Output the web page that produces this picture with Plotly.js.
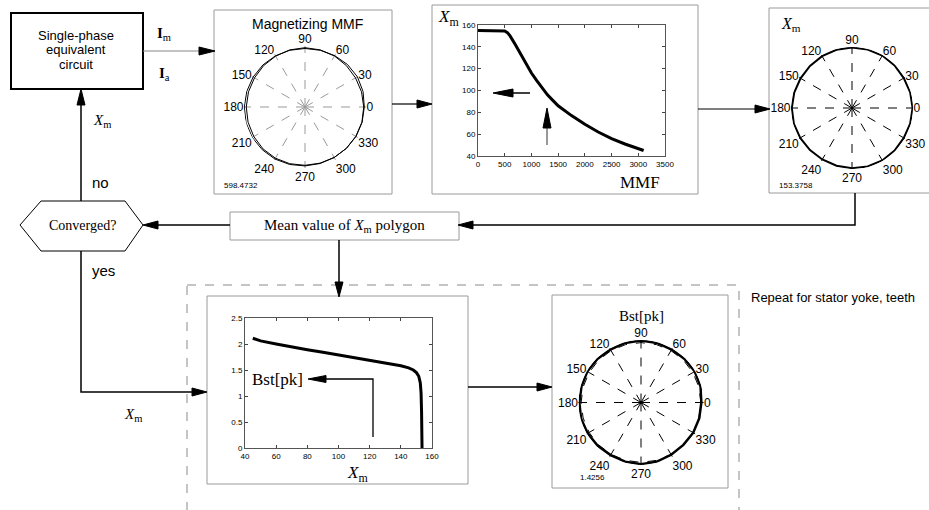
<!DOCTYPE html>
<html>
<head>
<meta charset="utf-8">
<script src="https://cdn.plot.ly/plotly-3.0.1.min.js"></script>
<style>html,body{margin:0;padding:0;background:#fff;}#chart{width:929px;height:510px;}</style>
</head>
<body>
<div id="chart"></div>
<script>
// ---------- data ----------
const polarTheta = [0,15,30,45,60,75,90,105,120,135,150,165,180,195,210,225,240,255,270,285,300,315,330,345,360];
const angTicks = [0,30,60,90,120,150,180,210,240,270,300,330];
const angTickText = ['0','30','60','90','120','150','180','210','240','270','300','330'];

const mmfInner = [592,590,588,590,594,596,598,596,592,590,588,590,592,594,596,598,596,592,588,586,588,590,592,594,592];
const mmfOuter = [598,606,610,606,598,592,590,592,596,600,604,608,612,615,614,610,606,600,594,590,588,590,594,596,598];

const xmPolygon = [153,152,151,152,153,153,153,152,151,150,150,151,152,152,151,150,150,151,152,153,153,152,151,152,153];

const bstPolygon = [1.40,1.43,1.44,1.43,1.42,1.43,1.44,1.43,1.42,1.43,1.44,1.43,1.43,1.44,1.43,1.42,1.41,1.42,1.43,1.42,1.40,1.39,1.40,1.40,1.40];
const bstMean = [1.39,1.39,1.39,1.39,1.39,1.39,1.39,1.39,1.39,1.39,1.39,1.39,1.39,1.39,1.39,1.39,1.39,1.39,1.39,1.39,1.39,1.39,1.39,1.39,1.39];

const mmfValues = [0,100,200,300,400,500,550,600,700,800,900,1000,1100,1200,1300,1400,1500,1750,2000,2250,2500,2750,3000,3100];
const xmFromMmf = [155,155,155,155,155,154.5,153,150,142,133,124,116,109,102,96,91,86,77,69,62,56,51,47,45];

const xmValues = [45,50,60,70,80,90,100,110,120,130,140,145,148,150,151.5,152.5,153,153.3,153.5,153.6];
const bstValues = [2.11,2.06,2.0,1.94,1.89,1.84,1.79,1.74,1.69,1.64,1.58,1.54,1.5,1.45,1.38,1.25,1.05,0.7,0.3,0];

// ---------- helpers (pixel -> paper) ----------
const W = 929, H = 510;
const X = px => px / W;
const Y = py => 1 - py / H;

const shapes = [];
const annotations = [];

function rect(x0,y0,x1,y1,color,width,dash){
  shapes.push({type:'rect',xref:'paper',yref:'paper',x0:X(x0),y0:Y(y0),x1:X(x1),y1:Y(y1),
    line:{color:color,width:width,dash:dash||'solid'},fillcolor:'rgba(0,0,0,0)',layer:'below'});
}
function poly(pts,color,width,closed,dash){
  let d = pts.map((p,i)=>(i?'L':'M')+X(p[0])+','+Y(p[1])).join(' ');
  if(closed) d += ' Z';
  shapes.push({type:'path',xref:'paper',yref:'paper',path:d,line:{color:color,width:width,dash:dash||'solid'},fillcolor:'rgba(0,0,0,0)'});
}
function head(tx,ty,dir,len,hw){
  let pts;
  if(dir==='r') pts=[[tx,ty],[tx-len,ty-hw],[tx-len,ty+hw]];
  if(dir==='l') pts=[[tx,ty],[tx+len,ty-hw],[tx+len,ty+hw]];
  if(dir==='u') pts=[[tx,ty],[tx-hw,ty+len],[tx+hw,ty+len]];
  if(dir==='d') pts=[[tx,ty],[tx-hw,ty-len],[tx+hw,ty-len]];
  const d = pts.map((p,i)=>(i?'L':'M')+X(p[0])+','+Y(p[1])).join(' ')+' Z';
  shapes.push({type:'path',xref:'paper',yref:'paper',path:d,line:{color:'#000',width:1},fillcolor:'#000'});
}
function text(t,x,y,size,family,xanchor,color){
  annotations.push({text:t,xref:'paper',yref:'paper',x:X(x),y:Y(y),showarrow:false,
    xanchor:xanchor||'center',yanchor:'middle',font:{size:size,family:family,color:color||'#000'}});
}
const SANS = 'Liberation Sans, Arial, sans-serif';
const SERIF = 'Liberation Serif, Times New Roman, serif';

// ---------- boxes ----------
rect(11,13,143,89,'#000',2);
rect(214,10,392,194,'#9a9a9a',1);
rect(432,5,698,194,'#9a9a9a',1);
rect(769,8,945,193,'#9a9a9a',1);
rect(230,212,459,240,'#9a9a9a',1);
rect(187,285,739,530,'#8a8a8a',1,'dash');
rect(207,296,468,484,'#9a9a9a',1);
rect(552,295,728,488,'#9a9a9a',1);
poly([[20,225],[41,201],[125,201],[143,225],[125,251],[41,251]],'#000',1,true);

// ---------- connectors ----------
poly([[143,51],[200,51]],'#888',1.2);            head(215,51,'r',16,4);
poly([[392,104],[418,104]],'#000',1.2);          head(432,104,'r',15,4);
poly([[698,109],[756,109]],'#000',1.2);          head(770,109,'r',15,4);
poly([[855,193],[855,225],[472,225]],'#000',1.5); head(458,225,'l',15,4);
poly([[230,225],[158,225]],'#000',1.5);          head(143,225,'l',15,4);
poly([[81,201],[81,104]],'#000',1.5);            head(81,89,'u',16,4);
poly([[81,251],[81,392],[193,392]],'#000',1.5);  head(207,392,'r',15,4);
poly([[339,240],[339,282]],'#000',1.5);          head(339,297,'d',15,4);
poly([[468,387],[538,387]],'#000',1.5);          head(552,387,'r',15,4);
// arrows inside the MMF chart
poly([[530,93],[512,93]],'#000',1.5);            head(493,93,'l',20,4);
poly([[547,145],[547,128]],'#777',1.5);          head(547,108,'u',20,4);
// arrow inside the Bst chart
poly([[373,437],[373,379],[326,379]],'#000',1.3); head(308,379,'l',18,3.5);

// ---------- texts ----------
text('Single-phase',76,36,13,SANS);
text('equivalent',76,50,13,SANS);
text('circuit',76,64,13,SANS);
text('<b>I</b><sub>m</sub>',164,34,15,SERIF);
text('<b>I</b><sub>a</sub>',164,74,15,SERIF);
text('<i>X</i><sub>m</sub>',102,121,15,SERIF);
text('no',100,182,15,SANS);
text('Converged?',82,225,14,SERIF);
text('yes',103,270,15,SANS);
text('<i>X</i><sub>m</sub>',133,415,15,SERIF);
text('Mean value of <i>X</i><sub>m</sub> polygon',344,226,15,SERIF);
text('Magnetizing MMF',307,24,14,SANS);
text('598.4732',222,185,8,SANS,'left');
text('<i>X</i><sub>m</sub>',448,18,17,SERIF);
text('MMF',640,182,17,SERIF);
text('<i>X</i><sub>m</sub>',791,24,16,SERIF);
text('153.3758',777,185,8,SANS,'left');
text('Bst[pk]',277,379,17,SERIF);
text('<i>X</i><sub>m</sub>',357,474,17,SERIF);
text('Bst[pk]',641,316,15,SERIF);
text('1.4256',578,477,8,SANS,'left');
text('Repeat for stator yoke, teeth',749,297,13,SANS,'left');

// ---------- traces ----------
const traces = [
  {type:'scatterpolar',r:mmfInner,theta:polarTheta,mode:'lines',line:{color:'#000',width:1},subplot:'polar'},
  {type:'scatterpolar',r:mmfOuter,theta:polarTheta,mode:'lines',line:{color:'#000',width:1},subplot:'polar'},
  {type:'scatterpolar',r:xmPolygon,theta:polarTheta,mode:'lines',line:{color:'#000',width:2},subplot:'polar2'},
  {type:'scatterpolar',r:bstMean,theta:polarTheta,mode:'lines',line:{color:'#000',width:1,dash:'dash'},subplot:'polar3'},
  {type:'scatterpolar',r:bstPolygon,theta:polarTheta,mode:'lines',line:{color:'#000',width:2.5},subplot:'polar3'},
  {type:'scatter',x:mmfValues,y:xmFromMmf,mode:'lines',line:{color:'#000',width:3},xaxis:'x',yaxis:'y'},
  {type:'scatter',x:xmValues,y:bstValues,mode:'lines',line:{color:'#000',width:3},xaxis:'x2',yaxis:'y2'}
];

function polarLayout(x0,x1,y0,y1,rmax,gridColor,gridWidth){
  return {
    domain:{x:[X(x0),X(x1)],y:[Y(y1),Y(y0)]},
    bgcolor:'rgba(0,0,0,0)',
    radialaxis:{range:[0,rmax],visible:false,showgrid:false},
    angularaxis:{tickvals:angTicks,ticktext:angTickText,direction:'counterclockwise',rotation:0,
      showline:false,ticks:'',showgrid:true,gridcolor:gridColor,gridwidth:gridWidth,griddash:'dash',
      tickfont:{size:12,family:SANS,color:'#000'}}
  };
}
function cartAxis(x0,x1,range,dtick,anchor,horizontal){
  const a = {range:range,dtick:dtick,ticks:'inside',ticklen:3,tickcolor:'#444',mirror:'ticks',
    showline:true,linecolor:'#555',linewidth:1,showgrid:false,zeroline:false,anchor:anchor,
    tickfont:{size:8,family:SANS,color:'#000'}};
  a.domain = horizontal ? [X(x0),X(x1)] : [Y(x1),Y(x0)];
  return a;
}

const layout = {
  width:W,height:H,margin:{l:0,r:0,t:0,b:0},
  paper_bgcolor:'#fff',plot_bgcolor:'#fff',showlegend:false,
  polar:polarLayout(244,366,46,168,615,'#9a9a9a',1),
  polar2:polarLayout(791,913,47,169,154,'#000',1),
  polar3:polarLayout(578,704,340,465,1.45,'#000',1),
  xaxis:cartAxis(478,665,[0,3500],500,'y',true),
  yaxis:cartAxis(25,156,[40,160],20,'x',false),
  xaxis2:cartAxis(245,432,[40,160],20,'y2',true),
  yaxis2:cartAxis(318,448,[0,2.5],0.5,'x2',false),
  shapes:shapes,
  annotations:annotations
};

Plotly.newPlot('chart',traces,layout,{staticPlot:true,displayModeBar:false});
</script>
</body>
</html>
